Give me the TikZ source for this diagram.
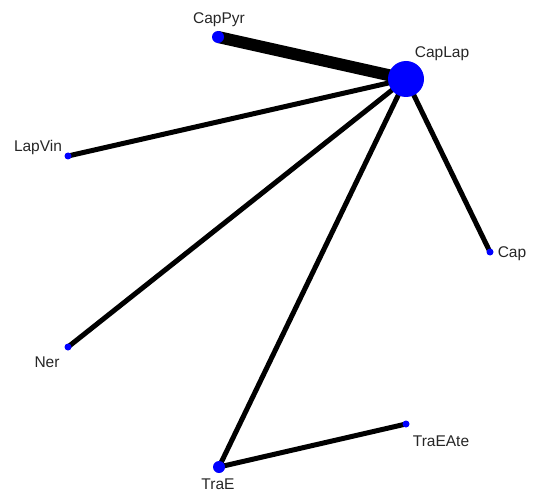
\documentclass[tikz,border=0pt]{standalone}
\usepackage{fontspec}
\setmainfont{Liberation Sans}
\usetikzlibrary{backgrounds}
\tikzset{
	dot/.style={circle, fill=blue, inner sep=0pt, minimum size=#1},
	lbl/.style={font=\fontsize{15.5}{18}\selectfont, inner sep=0pt, text=black!85},
	arm/.style={line width=5pt, black},
	fatarm/.style={line width=12pt, black}
}
\begin{document}
\begin{tikzpicture}[x=1pt, y=-1pt]
		%%%%% START %%%%%
		\useasboundingbox (0, 0) rectangle (534, 494);
		
		\node[dot=36pt] (caplap) at (406, 79) {};
		\node[dot=12pt] (cappyr) at (218, 37) {};
		\node[dot=7pt] (lapvin) at (68, 156) {};
		\node[dot=7pt] (cap) at (490, 252) {};
		\node[dot=7pt] (ner) at (68, 347) {};
		\node[dot=12pt] (trae) at (219, 467) {};
		\node[dot=7pt] (traeate) at (406, 424) {};
		
		\begin{scope}[on background layer]
			\draw[fatarm] (caplap.center) -- (cappyr.center);
			\draw[arm] (caplap.center) -- (lapvin.center);
			\draw[arm] (caplap.center) -- (ner.center);
			\draw[arm] (caplap.center) -- (trae.center);
			\draw[arm] (caplap.center) -- (cap.center);
			\draw[arm] (trae.center) -- (traeate.center);
		\end{scope}
		
		\node[lbl] (caplap-l) at (442, 54) {CapLap};
		\node[lbl] (cappyr-l) at (219, 20) {CapPyr};
		\node[lbl] (lapvin-l) at (38, 147) {LapVin};
		\node[lbl] (cap-l) at (512, 254) {Cap};
		\node[lbl] (ner-l) at (47, 362) {Ner};
		\node[lbl] (trae-l) at (218, 484) {TraE};
		\node[lbl] (traeate-l) at (441, 441) {TraEAte};
		
		%%%%% END %%%%%
	\end{tikzpicture}
\end{document}
